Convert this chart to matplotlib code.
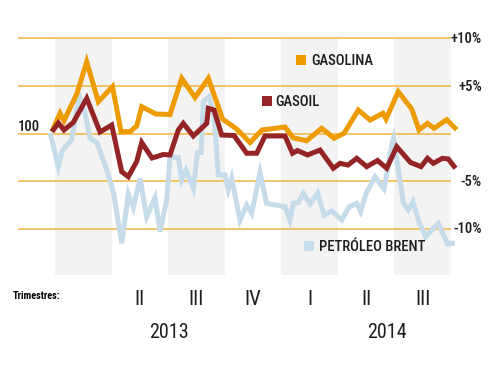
import matplotlib
matplotlib.use("Agg")
import matplotlib.pyplot as plt

plt.rcParams['font.family'] = ['Noto Sans Condensed', 'Roboto Condensed', 'Liberation Sans Narrow',
                               'Noto Sans', 'DejaVu Sans']
plt.rcParams['font.stretch'] = 'condensed'

# x in weeks from start of Q1 2013, y in % change (base 100)
gasolina_x = [-0.7, 1.15, 2.07, 5.06, 7.28, 9.95, 13.21, 15.17, 17.23, 18.77, 19.92, 23.21, 26.42,
              29.11, 32.17, 35.23, 38.49, 41.75, 44.81, 47.56, 52.85, 54.76, 57.84, 61.28, 64.11,
              66.41, 69.7, 72.38, 75.37, 76.06, 78.88, 81.96, 83.64, 85.59, 87.09, 90.0, 92.3]
gasolina_y = [0.19, 2.13, 1.34, 4.23, 7.56, 3.35, 4.93, 0.19, 0.19, 0.79, 2.82, 2.05, 2.0,
              5.81, 3.79, 5.81, 1.53, 0.47, -0.95, 0.37, 0.68, -0.47, -0.76, 0.55, -0.5,
              0.02, 2.47, 1.42, 2.13, 1.53, 4.4, 2.58, 0.37, 1.07, 0.55, 1.45, 0.4]

gasoil_x = [-0.7, 0.76, 2.07, 4.2, 7.28, 10.34, 13.03, 15.33, 16.84, 18.77, 19.92, 22.29, 24.88,
            26.42, 28.33, 29.48, 31.78, 34.86, 35.23, 36.54, 38.3, 41.13, 44.05, 46.35, 48.25,
            52.85, 54.57, 55.72, 58.02, 60.9, 63.95, 65.49, 67.33, 69.33, 71.63, 74.11, 76.22,
            78.52, 81.69, 84.1, 85.59, 86.92, 89.04, 90.37, 92.03]
gasoil_y = [0.19, 1.1, 0.37, 1.16, 3.7, 0.16, 0.89, -4.02, -4.55, -2.95, -0.95, -2.58, -2.21,
            -2.26, 0.37, 1.07, -0.26, 1.07, 2.65, 2.47, -0.16, -0.21, -2.08, -2.08, -0.26,
            -0.26, -2.08, -1.79, -2.26, -1.74, -3.66, -3.14, -3.32, -2.61, -3.49, -2.84, -3.66,
            -1.39, -3.05, -3.49, -2.61, -3.14, -2.61, -2.68, -3.66]

brent_x = [-1.15, 0.76, 1.72, 3.84, 5.51, 6.89, 8.04, 9.65, 11.88, 13.4, 15.33, 16.84, 17.99,
           19.53, 21.07, 22.98, 24.13, 25.67, 26.42, 28.33, 29.11, 30.1, 31.78, 32.75, 33.55,
           34.08, 35.39, 36.54, 37.52, 39.06, 39.82, 40.6, 42.51, 44.05, 45.2, 47.1, 48.6,
           52.85, 54.0, 54.76, 55.91, 57.06, 58.59, 60.32, 61.81, 63.58, 65.88, 67.56, 69.33,
           70.2, 71.63, 73.53, 75.6, 77.55, 77.78, 80.03, 81.18, 82.26, 83.64, 85.13, 88.07,
           90.19, 90.76, 91.91]
brent_y = [0.1, -3.49, -1.74, -0.68, 4.05, 2.16, -0.47, -1.0, -3.84, -6.11, -11.56, -6.37, -7.79,
           -4.72, -8.76, -6.74, -10.34, -7.0, -2.44, -2.53, -4.89, -3.84, -5.77, -2.0, -2.0,
           3.35, 3.87, 1.95, -4.37, -4.37, -5.95, -4.72, -9.11, -7.53, -8.4, -4.11, -7.35,
           -7.71, -9.11, -7.35, -7.26, -6.29, -7.42, -6.29, -8.58, -8.16, -9.11, -7.71, -7.35,
           -8.21, -6.16, -4.55, -5.84, -0.84, -0.51, -7.26, -8.05, -7.18, -9.32, -10.86, -9.45,
           -11.63, -11.56, -11.56]

grid_values = [10, 5, 0, -5, -10]
right_labels = ['+10%', '+5%', None, '-5%', '-10%']
left_label = '100'
shaded_quarters = [(0, 13), (26, 39), (52, 65), (78, 91)]
quarter_labels = ['II', 'III', 'IV', 'I', 'II', 'III']
quarter_centers = [19.5, 32.5, 45.5, 58.5, 71.5, 84.5]
years = ['2013', '2014']
year_positions = [26.2, 76.3]

C_GASOLINA = '#EE9B00'
C_GASOIL = '#952426'
C_BRENT = '#C6DCEA'
C_GRID = '#F2B53E'
C_BAND = '#F3F3F3'
C_TEXT = '#1E1E1E'

fig = plt.figure(figsize=(5, 3.7), dpi=100)
ax = fig.add_axes([0, 0, 1, 1])
ax.set_xlim(-12.64, 102.25)
ax.set_ylim(-24.89, 14.05)
ax.axis('off')

for a, b in shaded_quarters:
    ax.fill_between([a, b], -14.9, 10, color=C_BAND, lw=0, zorder=0)

for v in grid_values:
    ax.plot([-8.5, 90.9], [v, v], color=C_GRID, lw=1.1, zorder=1, solid_capstyle='butt')

for v, lab in zip(grid_values, right_labels):
    if lab:
        ax.text(98.1, v - 0.5, lab, ha='right', va='baseline', fontsize=10.5,
                fontweight='medium', color=C_TEXT)
ax.text(-8.5, 0.26, left_label, ha='left', va='baseline', fontsize=10.5,
        fontweight='medium', color=C_TEXT)

kw = dict(lw=3.6, solid_joinstyle='miter', solid_capstyle='butt')
ax.plot(brent_x, brent_y, color=C_BRENT, zorder=2, **kw)
ax.plot(gasolina_x, gasolina_y, color=C_GASOLINA, zorder=3, **kw)
ax.plot(gasoil_x, gasoil_y, color=C_GASOIL, zorder=4, **kw)

# legends
for (sx, sy, tx, ty, lab, col) in [
        (56.5, 7.74, 58.8, 7.21, 'GASOLINA', C_GASOLINA),
        (48.7, 3.42, 50.55, 2.89, 'GASOIL', C_GASOIL),
        (58.4, -11.84, 60.7, -12.34, 'PETRÓLEO BRENT', C_BRENT)]:
    ax.plot([sx], [sy], marker='s', ms=7, color=col, mew=0, zorder=5)
    ax.text(tx, ty, lab, ha='left', va='baseline', fontsize=10.5,
            fontweight='medium', color=C_TEXT)

ax.text(-9.65, -17.45, 'Trimestres:', ha='left', va='baseline', fontsize=7.5,
        fontweight='black', color='#000000')
for c, lab in zip(quarter_centers, quarter_labels):
    ax.text(c, -18.0, lab, ha='center', va='baseline', fontsize=15, color=C_TEXT)
for p, lab in zip(year_positions, years):
    ax.text(p, -21.56, lab, ha='center', va='baseline', fontsize=14.5, color=C_TEXT)

fig.savefig('out.png', dpi=100)
